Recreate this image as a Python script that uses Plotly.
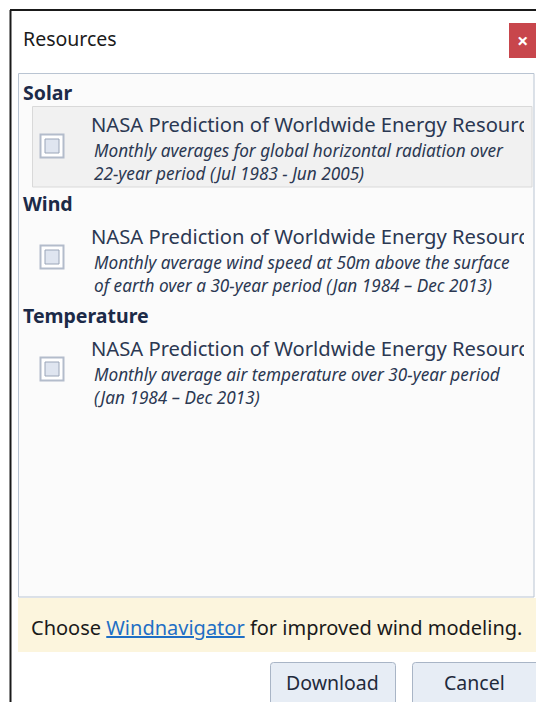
import plotly.graph_objects as go

W, H = 536, 702

# conteúdo do diálogo
titulo = "Resources"
grupos = ["Solar", "Wind", "Temperature"]
fontes = ["NASA Prediction of Worldwide Energy Resource"] * 3
descricoes = [
    ["Monthly averages for global horizontal radiation over", "22-year period (Jul 1983 - Jun 2005)"],
    ["Monthly average wind speed at 50m above the surface", "of earth over a 30-year period (Jan 1984 \u2013 Dec 2013)"],
    ["Monthly average air temperature over 30-year period", "(Jan 1984 \u2013 Dec 2013)"],
]
aviso_antes = "Choose "
aviso_link = "Windnavigator"
aviso_depois = " for improved wind modeling."
botoes = ["Download", "Cancel"]

# posições verticais (pixels a partir do topo)
y_grupo = [92, 203, 315]
y_fonte = [124, 236, 348]
y_check = [146, 257, 369]

FONT = "Noto Sans"
c_head = "#1c2a48"
c_txt = "#2b3852"

fig = go.Figure()

shapes = []
def rect(x0, y0, x1, y1, fill, line=None, lw=1):
    shapes.append(dict(type="rect", xref="x", yref="y", x0=x0, y0=y0, x1=x1, y1=y1,
                       fillcolor=fill, line=dict(color=line or fill, width=lw if line else 0),
                       layer="below"))

def rrect(x0, y0, x1, y1, r, fill, line):
    p = (f"M{x0+r},{y0} L{x1-r},{y0} Q{x1},{y0} {x1},{y0+r} L{x1},{y1-r} Q{x1},{y1} {x1-r},{y1} "
         f"L{x0+r},{y1} Q{x0},{y1} {x0},{y1-r} L{x0},{y0+r} Q{x0},{y0} {x0+r},{y0} Z")
    shapes.append(dict(type="path", xref="x", yref="y", path=p, fillcolor=fill,
                       line=dict(color=line, width=1), layer="below"))

# moldura da janela
shapes.append(dict(type="line", xref="x", yref="y", x0=10, y0=10, x1=W, y1=10, line=dict(color="#1a1a1a", width=2), layer="below"))
shapes.append(dict(type="line", xref="x", yref="y", x0=10.5, y0=10, x1=10.5, y1=H, line=dict(color="#1a1a1a", width=2), layer="below"))
# botão fechar
rect(509, 23, W, 58, "#c8464c")
# lista
rect(18.5, 73.5, 534, 597, "#fbfbfb", "#b9c4d2")
# item selecionado (solar)
rect(32.5, 106.5, 532, 187, "#f1f1f1", "#d9d9d9")
# aviso amarelo
rect(18, 598, W, 652, "#fcf5dd")
# checkboxes
for yc in y_check:
    rect(40.5, yc - 11.5, 63.5, yc + 11.5, "#ffffff", "#b3bccb", 2)
    rect(45, yc - 7, 59, yc + 7, "#dfe5f0", "#9aa5b8")
# botões
rrect(270.5, 662.5, 395.5, 712, 3, "#e7edf5", "#a9b5c6")
rrect(412.5, 662.5, 545, 712, 3, "#e7edf5", "#a9b5c6")

ann = []
def txt(x, y, s, size, color, bold=False, italic=False, anchor="left"):
    ann.append(dict(x=x, y=y, xref="x", yref="y", text=s, showarrow=False,
                    xanchor=anchor, yanchor="middle",
                    font=dict(family=FONT, size=size, color=color,
                              weight="bold" if bold else "normal",
                              style="italic" if italic else "normal")))

txt(21, 38, titulo, 19.5, "#1a1a1a")
txt(522.5, 40, "\u00d7", 20, "white", bold=True, anchor="center")
for g, yg, yf, d in zip(grupos, y_grupo, y_fonte, descricoes):
    txt(21, yg, g, 19.5, c_head, bold=True)
    txt(92, yf + 26, d[0], 17.2, c_txt, italic=True)
    txt(92, yf + 49.5, d[1], 17.2, c_txt, italic=True)
txt(29, 627, aviso_antes + f"<span style='color:#1f6fc5;text-decoration:underline'>{aviso_link}</span>" + aviso_depois,
    20, "#1a1a1a")
txt(332.5, 682, botoes[0], 19.5, "#1f2a3c", anchor="center")
txt(474.5, 682, botoes[1], 19.5, "#1f2a3c", anchor="center")

# títulos das fontes, cortados na borda direita (eixo 2 termina em x=524)
fig.add_trace(go.Scatter(x=[91] * 3, y=[v + 2.5 for v in y_fonte], text=fontes, mode="text",
                         textposition="middle right", cliponaxis=True,
                         textfont=dict(family=FONT, size=20.2, color=c_txt),
                         xaxis="x2", yaxis="y2", hoverinfo="skip", showlegend=False))

fig.update_layout(
    width=W, height=H, margin=dict(l=0, r=0, t=0, b=0),
    paper_bgcolor="white", plot_bgcolor="rgba(0,0,0,0)",
    xaxis=dict(range=[0, W], visible=False, fixedrange=True),
    yaxis=dict(range=[H, 0], visible=False, fixedrange=True),
    xaxis2=dict(range=[0, 524], domain=[0, 524 / W], visible=False, anchor="y2", fixedrange=True),
    yaxis2=dict(range=[H, 0], visible=False, anchor="x2", fixedrange=True),
    shapes=shapes, annotations=ann, showlegend=False,
)

# tira a margem padrão do <body> para o gráfico começar no canto
fig.write_html("out.html", config={"displayModeBar": False},
               post_script="document.body.style.margin='0';document.body.style.overflow='hidden';")
